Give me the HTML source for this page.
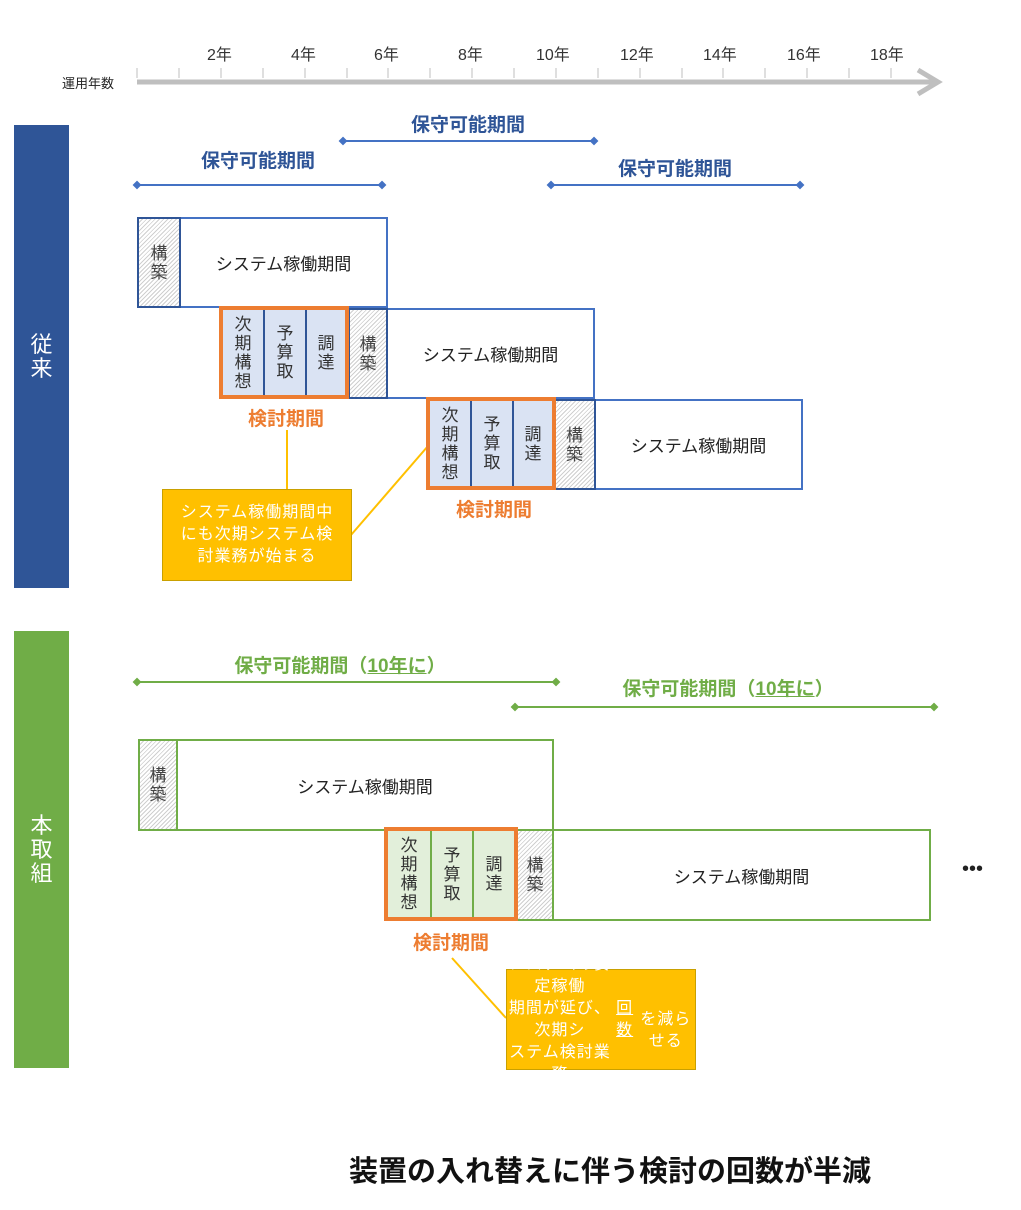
<!DOCTYPE html>
<html><head><meta charset="utf-8"><style>
body{margin:0;width:1021px;height:1210px;background:#fff;position:relative;overflow:hidden;font-family:"Liberation Sans","Noto Sans CJK JP",sans-serif}
.a{position:absolute;box-sizing:border-box}
.c{display:flex;align-items:center;justify-content:center;text-align:center}
.h{background:repeating-linear-gradient(135deg,#fff 0 2px,#cfcfcf 2px 3px);color:#444;font-size:17px;line-height:19px}
.sys{background:#fff;font-size:17px;color:#222}
.cell{font-size:17px;line-height:19px;color:#333}
.lb{font-weight:bold;font-size:19px;white-space:nowrap;transform:translateX(-50%)}
.call{background:#ffc000;border:1px solid #c9a000;color:#fff;font-size:16px;line-height:22px;letter-spacing:1px}
</style></head><body>
<svg class="a" style="left:0;top:0" width="1021" height="1210">
<g stroke="#bfbfbf" stroke-width="1">
<line x1="137" y1="68" x2="137" y2="78"/><line x1="179" y1="68" x2="179" y2="78"/><line x1="221" y1="68" x2="221" y2="78"/><line x1="263" y1="68" x2="263" y2="78"/><line x1="305" y1="68" x2="305" y2="78"/><line x1="347" y1="68" x2="347" y2="78"/><line x1="388" y1="68" x2="388" y2="78"/><line x1="430" y1="68" x2="430" y2="78"/><line x1="472" y1="68" x2="472" y2="78"/><line x1="514" y1="68" x2="514" y2="78"/><line x1="556" y1="68" x2="556" y2="78"/><line x1="598" y1="68" x2="598" y2="78"/><line x1="640" y1="68" x2="640" y2="78"/><line x1="682" y1="68" x2="682" y2="78"/><line x1="723" y1="68" x2="723" y2="78"/><line x1="765" y1="68" x2="765" y2="78"/><line x1="807" y1="68" x2="807" y2="78"/><line x1="849" y1="68" x2="849" y2="78"/><line x1="891" y1="68" x2="891" y2="78"/>
</g>
<line x1="137" y1="82" x2="936" y2="82" stroke="#bfbfbf" stroke-width="5"/>
<polyline points="918,70 938,82 918,94" fill="none" stroke="#bfbfbf" stroke-width="5"/>
<g stroke="#4472c4" stroke-width="2" fill="#4472c4">
<line x1="137" y1="185" x2="382" y2="185"/><line x1="343" y1="141" x2="594" y2="141"/><line x1="551" y1="185" x2="800" y2="185"/>
<path d="M137 182l3 3-3 3-3-3zM382 182l3 3-3 3-3-3zM343 138l3 3-3 3-3-3zM594 138l3 3-3 3-3-3zM551 182l3 3-3 3-3-3zM800 182l3 3-3 3-3-3z"/>
</g>
<g stroke="#70ad47" stroke-width="2" fill="#70ad47">
<line x1="137" y1="682" x2="556" y2="682"/><line x1="515" y1="707" x2="934" y2="707"/>
<path d="M137 679l3 3-3 3-3-3zM556 679l3 3-3 3-3-3zM515 704l3 3-3 3-3-3zM934 704l3 3-3 3-3-3z"/>
</g>
<g stroke="#ffc000" stroke-width="2">
<line x1="287" y1="430" x2="287" y2="489"/><line x1="351" y1="535" x2="428" y2="446"/><line x1="452" y1="958" x2="506" y2="1018"/>
</g>
</svg>
<div class="a" style="left:62px;top:73px;font-size:13px;color:#222">運用年数</div>
<div class="a" style="top:41px;left:0;width:1021px;font-size:16px;color:#333">
<span class="a" style="left:207px">2年</span><span class="a" style="left:291px">4年</span><span class="a" style="left:374px">6年</span><span class="a" style="left:458px">8年</span><span class="a" style="left:536px">10年</span><span class="a" style="left:620px">12年</span><span class="a" style="left:703px">14年</span><span class="a" style="left:787px">16年</span><span class="a" style="left:870px">18年</span></div>

<div class="a c" style="left:14px;top:125px;width:55px;height:463px;background:#2f5597;color:#fff;font-size:22px;line-height:24px">従<br>来</div>
<div class="a c" style="left:14px;top:631px;width:55px;height:437px;background:#70ad47;color:#fff;font-size:22px;line-height:24px">本<br>取<br>組</div>

<div class="a lb" style="left:258px;top:146px;color:#2f5597">保守可能期間</div>
<div class="a lb" style="left:468px;top:110px;color:#2f5597">保守可能期間</div>
<div class="a lb" style="left:675px;top:154px;color:#2f5597">保守可能期間</div>

<!-- upper row1 -->
<div class="a c sys" style="left:179px;top:217px;width:209px;height:91px;border:2px solid #4472c4">システム稼働期間</div>
<div class="a c h" style="left:137px;top:217px;width:44px;height:91px;border:2px solid #2f5597">構<br>築</div>
<!-- row2 -->
<div class="a c sys" style="left:386px;top:308px;width:209px;height:91px;border:2px solid #4472c4">システム稼働期間</div>
<div class="a c h" style="left:348px;top:308px;width:40px;height:91px;border:2px solid #2f5597">構<br>築</div>
<div class="a" style="left:219px;top:306px;width:130px;height:93px;border:4px solid #ed7d31;display:flex;background:#2f5597">
<div class="c cell" style="width:40px;background:#dae3f3">次<br>期<br>構<br>想</div><div style="width:2px"></div>
<div class="c cell" style="width:40px;background:#dae3f3">予<br>算<br>取</div><div style="width:2px"></div>
<div class="c cell" style="width:38px;background:#dae3f3">調<br>達</div></div>
<div class="a lb" style="left:286px;top:404px;color:#ed7d31">検討期間</div>
<!-- row3 -->
<div class="a c sys" style="left:594px;top:399px;width:209px;height:91px;border:2px solid #4472c4">システム稼働期間</div>
<div class="a c h" style="left:553px;top:399px;width:43px;height:91px;border:2px solid #2f5597">構<br>築</div>
<div class="a" style="left:426px;top:397px;width:130px;height:93px;border:4px solid #ed7d31;display:flex;background:#2f5597">
<div class="c cell" style="width:40px;background:#dae3f3">次<br>期<br>構<br>想</div><div style="width:2px"></div>
<div class="c cell" style="width:40px;background:#dae3f3">予<br>算<br>取</div><div style="width:2px"></div>
<div class="c cell" style="width:38px;background:#dae3f3">調<br>達</div></div>
<div class="a lb" style="left:494px;top:495px;color:#ed7d31">検討期間</div>
<div class="a c call" style="left:162px;top:489px;width:190px;height:92px">システム稼働期間中<br>にも次期システム検<br>討業務が始まる</div>

<!-- lower -->
<div class="a lb" style="left:340px;top:651px;color:#70ad47">保守可能期間（<u>10年に</u>）</div>
<div class="a lb" style="left:728px;top:674px;color:#70ad47">保守可能期間（<u>10年に</u>）</div>
<div class="a c sys" style="left:176px;top:739px;width:378px;height:92px;border:2px solid #70ad47">システム稼働期間</div>
<div class="a c h" style="left:138px;top:739px;width:40px;height:92px;border:2px solid #70ad47">構<br>築</div>
<div class="a c sys" style="left:552px;top:829px;width:379px;height:92px;border:2px solid #70ad47">システム稼働期間</div>
<div class="a c h" style="left:516px;top:829px;width:38px;height:92px;border:2px solid #70ad47">構<br>築</div>
<div class="a" style="left:384px;top:827px;width:134px;height:94px;border:4px solid #ed7d31;display:flex;background:#70ad47">
<div class="c cell" style="width:42px;background:#e2efda">次<br>期<br>構<br>想</div><div style="width:2px"></div>
<div class="c cell" style="width:40px;background:#e2efda">予<br>算<br>取</div><div style="width:2px"></div>
<div class="c cell" style="width:40px;background:#e2efda">調<br>達</div></div>
<div class="a lb" style="left:451px;top:928px;color:#ed7d31">検討期間</div>
<div class="a c call" style="left:506px;top:969px;width:190px;height:101px">システムの安定稼働<br>期間が延び、次期シ<br>ステム検討業務<u>回数</u><br>を減らせる</div>
<div class="a" style="left:962px;top:858px;font-size:20px;color:#222">•••</div>

<div class="a lb" style="left:610px;top:1148px;font-size:29px;color:#111">装置の入れ替えに伴う検討の回数が半減</div>
</body></html>
